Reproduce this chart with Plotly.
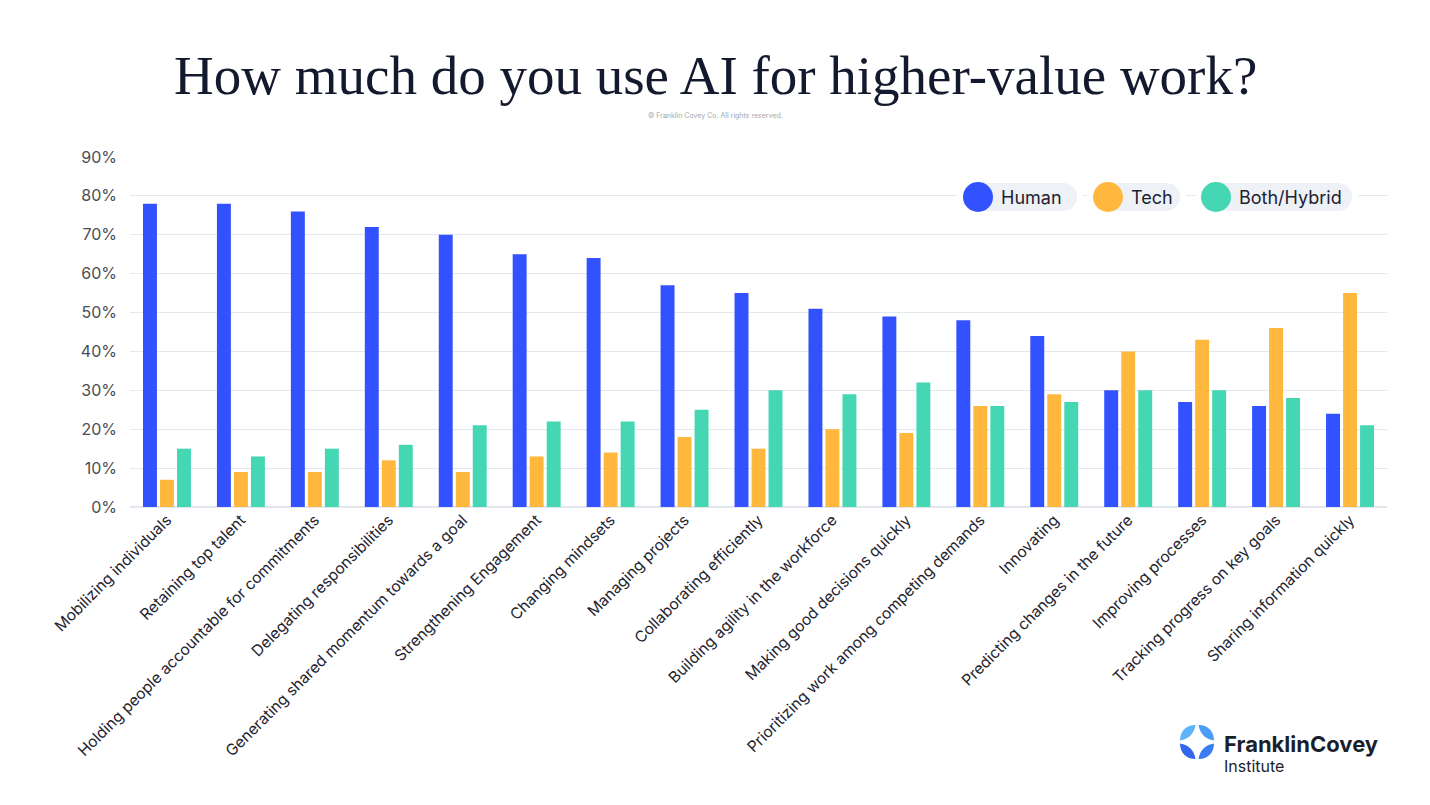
import plotly.graph_objects as go

# survey categories, left to right
categories = [
    "Mobilizing individuals",
    "Retaining top talent",
    "Holding people accountable for commitments",
    "Delegating responsibilities",
    "Generating shared momentum towards a goal",
    "Strengthening Engagement",
    "Changing mindsets",
    "Managing projects",
    "Collaborating efficiently",
    "Building agility in the workforce",
    "Making good decisions quickly",
    "Prioritizing work among competing demands",
    "Innovating",
    "Predicting changes in the future",
    "Improving processes",
    "Tracking progress on key goals",
    "Sharing information quickly",
]

human = [78, 78, 76, 72, 70, 65, 64, 57, 55, 51, 49, 48, 44, 30, 27, 26, 24]
tech = [7, 9, 9, 12, 9, 13, 14, 18, 15, 20, 19, 26, 29, 40, 43, 46, 55]
hybrid = [15, 13, 15, 16, 21, 22, 22, 25, 30, 29, 32, 26, 27, 30, 30, 28, 21]

series_names = ["Human", "Tech", "Both/Hybrid"]
colors = ["#3352ff", "#ffb83d", "#45d6b4"]

y_ticks = [0, 10, 20, 30, 40, 50, 60, 70, 80, 90]
y_labels = ["0%", "10%", "20%", "30%", "40%", "50%", "60%", "70%", "80%", "90%"]

W, H = 1430, 805
ML, MR, MT, MB = 130, 43, 157, 298
PW, PH = W - ML - MR, H - MT - MB

SANS = "Inter, Roboto, sans-serif"
SERIF = "Liberation Serif, DejaVu Serif, serif"


def px(x, y):
    # pixel position -> paper coordinates
    return (x - ML) / PW, (H - MB - y) / PH


fig = go.Figure()
for name, vals, col in zip(series_names, [human, tech, hybrid], colors):
    fig.add_trace(go.Bar(
        x=categories, y=vals, name=name,
        marker=dict(color=col, line=dict(width=0)),
        showlegend=False,
    ))

shapes = []
annotations = []

# legend pills (drawn by hand so they can look like the original)
pills = [
    ("Human", colors[0], 963, 1077),
    ("Tech", colors[1], 1093, 1180),
    ("Both/Hybrid", colors[2], 1201, 1352),
]
yc = 197
for label, col, x0, x1 in pills:
    r = 14
    # white gap over the gridline
    a0, b0 = px(x0 - 6, yc + 16)
    a1, b1 = px(x1 + 6, yc - 16)
    shapes.append(dict(type="rect", xref="paper", yref="paper", x0=a0, y0=b0, x1=a1, y1=b1,
                       fillcolor="white", line=dict(width=0), layer="above"))
    a0, b0 = px(x0 + 15, yc + r)
    a1, b1 = px(x1 - r, yc - r)
    shapes.append(dict(type="rect", xref="paper", yref="paper", x0=a0, y0=b0, x1=a1, y1=b1,
                       fillcolor="#eef1f5", line=dict(width=0), layer="above"))
    a0, b0 = px(x1 - 2 * r, yc + r)
    a1, b1 = px(x1, yc - r)
    shapes.append(dict(type="circle", xref="paper", yref="paper", x0=a0, y0=b0, x1=a1, y1=b1,
                       fillcolor="#eef1f5", line=dict(width=0), layer="above"))
    a0, b0 = px(x0, yc + 15)
    a1, b1 = px(x0 + 30, yc - 15)
    shapes.append(dict(type="circle", xref="paper", yref="paper", x0=a0, y0=b0, x1=a1, y1=b1,
                       fillcolor=col, line=dict(width=0), layer="above"))
    tx, ty = px(x0 + 36, yc)
    annotations.append(dict(text=label, xref="paper", yref="paper", x=tx, y=ty,
                            xanchor="left", yanchor="middle", showarrow=False,
                            font=dict(family=SANS, size=18, color="#1c2233")))

# logo star
cx, cy, R, g = 1197, 742, 17, 1.5
petal_cols = ["#4b9cf6", "#5db4fa", "#3a7cf3", "#3466ee"]  # TR, TL, BR, BL
quads = [(1, -1), (-1, -1), (1, 1), (-1, 1)]
for (sx, sy), pc in zip(quads, petal_cols):
    pts = [
        (cx + sx * g, cy + sy * R),
        (cx + sx * (g + 0.55 * R), cy + sy * R),
        (cx + sx * R, cy + sy * (g + 0.55 * R)),
        (cx + sx * R, cy + sy * g),
        (cx + sx * 0.22 * R, cy + sy * 0.22 * R),
    ]
    p = [px(a, b) for a, b in pts]
    path = (f"M {p[0][0]},{p[0][1]} C {p[1][0]},{p[1][1]} {p[2][0]},{p[2][1]} {p[3][0]},{p[3][1]} "
            f"Q {p[4][0]},{p[4][1]} {p[0][0]},{p[0][1]} Z")
    shapes.append(dict(type="path", xref="paper", yref="paper", path=path,
                       fillcolor=pc, line=dict(width=0)))

tx, ty = px(1222, 744)
annotations.append(dict(text="<b>FranklinCovey</b>", xref="paper", yref="paper", x=tx, y=ty,
                        xanchor="left", yanchor="middle", showarrow=False,
                        font=dict(family=SANS, size=22, color="#1a1f2e")))
tx, ty = px(1222, 766)
annotations.append(dict(text="Institute", xref="paper", yref="paper", x=tx, y=ty,
                        xanchor="left", yanchor="middle", showarrow=False,
                        font=dict(family=SANS, size=16, color="#1a1f2e")))

# title and copyright
tx, ty = px(715, 76)
annotations.append(dict(text="How much do you use AI for higher-value work?", xref="paper", yref="paper",
                        x=tx, y=ty, xanchor="center", yanchor="middle", showarrow=False,
                        font=dict(family=SERIF, size=55, color="#141a2e")))
tx, ty = px(715, 116)
annotations.append(dict(text="© Franklin Covey Co. All rights reserved.", xref="paper", yref="paper",
                        x=tx, y=ty, xanchor="center", yanchor="middle", showarrow=False,
                        font=dict(family=SANS, size=7, color="#a4a7ad")))

fig.update_layout(
    width=W, height=H,
    margin=dict(l=ML, r=MR, t=MT, b=MB),
    paper_bgcolor="white", plot_bgcolor="white",
    barmode="group", bargap=0.31, bargroupgap=0.18,
    shapes=shapes, annotations=annotations,
    xaxis=dict(tickangle=-45, tickfont=dict(family=SANS, size=15.5, color="#1f2430"),
               showgrid=False, showline=False, ticks="", automargin=False),
    yaxis=dict(range=[0, 90], tickvals=y_ticks, ticktext=y_labels,
               tickfont=dict(family=SANS, size=16, color="#4a4d55"),
               gridcolor="#e3e8ee", gridwidth=1, zeroline=True, zerolinecolor="#e3e8ee",
               zerolinewidth=1.5, showline=False, ticks="", ticklabelstandoff=12, automargin=False),
)

fig.write_html("out.html", config={"displayModeBar": False},
               post_script="document.body.style.margin='0';")
